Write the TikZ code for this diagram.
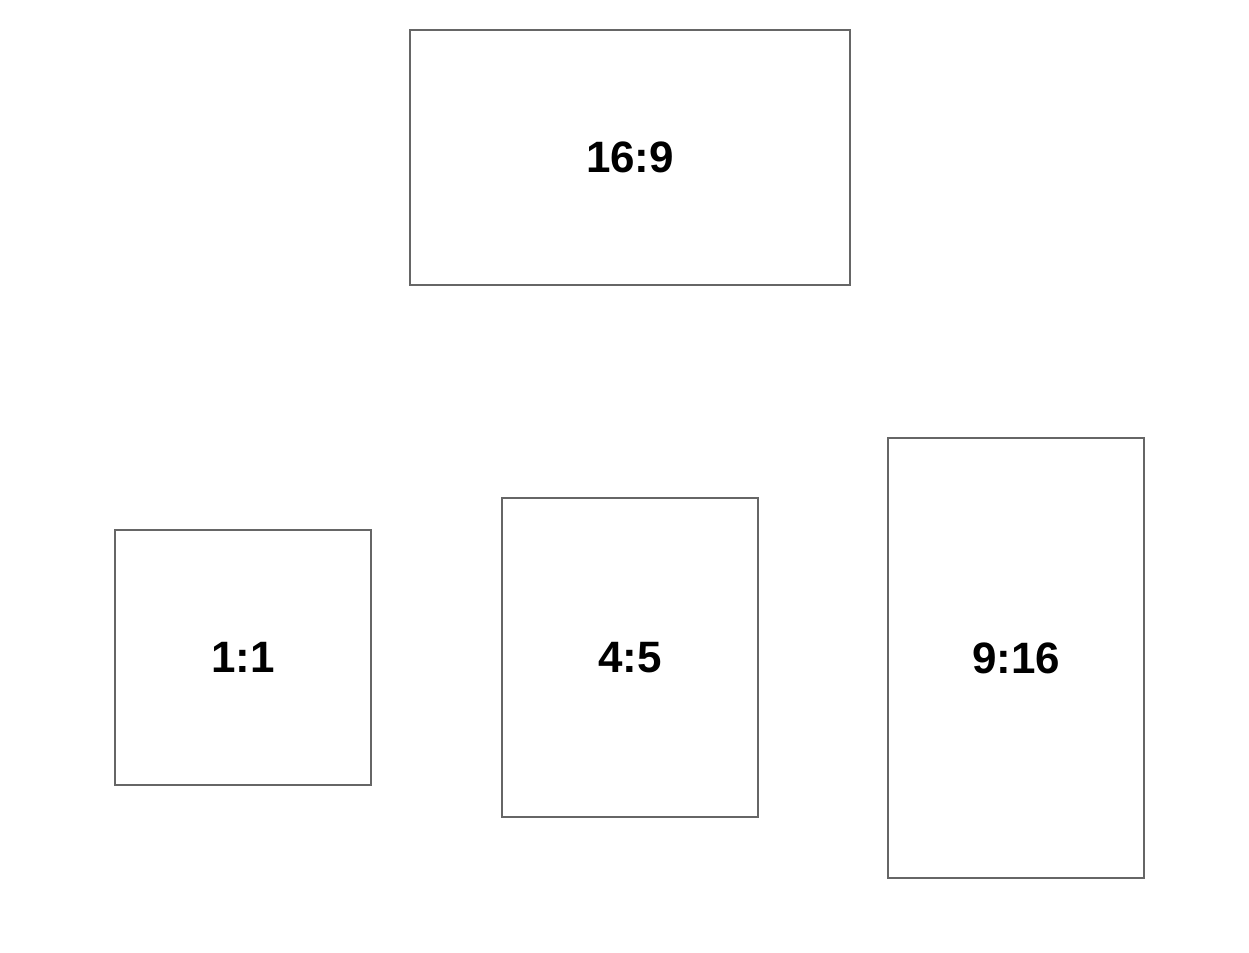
\documentclass[tikz,border=0pt]{standalone}
\usepackage{fontspec}
\setmainfont{Liberation Sans}
\usepackage{tikz}

\begin{document}
\begin{tikzpicture}[
  ratio/.style={draw=black!60,line width=1pt,rectangle,inner sep=0pt,font=\fontsize{25}{30}\selectfont\bfseries}]
  \useasboundingbox (0,0) rectangle (24.98,-19.06);
  \node[ratio,minimum width=8.8cm,minimum height=5.1cm] (wide) at (12.6,-3.15) {16:9};
  \node[ratio,minimum width=5.12cm,minimum height=5.1cm] (square) at (4.86,-13.15) {1:1};
  \node[ratio,minimum width=5.12cm,minimum height=6.38cm] (portrait) at (12.6,-13.15) {4:5};
  \node[ratio,minimum width=5.12cm,minimum height=8.8cm] (tall) at (20.32,-13.16) {9:16};
\end{tikzpicture}
\end{document}
